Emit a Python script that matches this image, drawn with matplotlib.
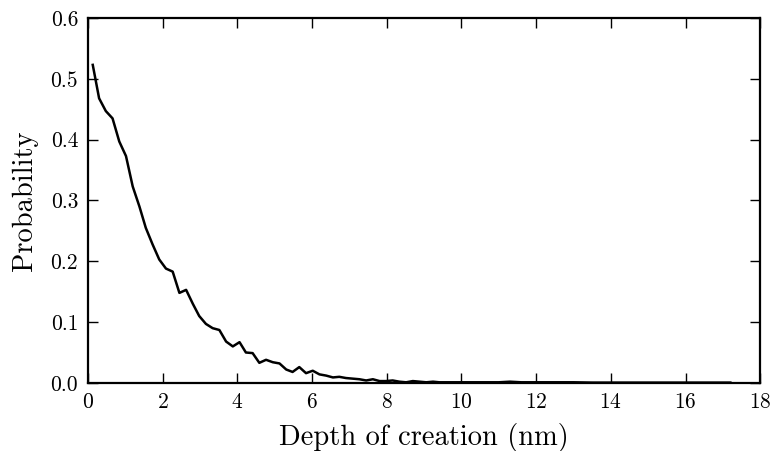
import numpy as np
import matplotlib.pyplot as plt

# depth of creation (nm) and probability
depth = [
    0.13, 0.30, 0.48, 0.66, 0.84, 1.02, 1.20, 1.38, 1.55, 1.73,
    1.91, 2.09, 2.27, 2.45, 2.63, 2.81, 2.98, 3.16, 3.34, 3.52,
    3.70, 3.88, 4.06, 4.23, 4.41, 4.59, 4.77, 4.95, 5.13, 5.31,
    5.48, 5.66, 5.84, 6.02, 6.20, 6.38, 6.56, 6.73, 6.91, 7.09,
    7.27, 7.45, 7.63, 7.81, 7.98, 8.16, 8.34, 8.52, 8.70, 8.88,
    9.06, 9.24, 9.41, 9.60, 10.0, 10.5, 11.0, 11.3, 11.6, 12.0,
    12.5, 13.0, 13.5, 14.0, 14.5, 15.0, 15.5, 16.0, 16.5, 17.0,
    17.2,
]
probability = [
    0.523, 0.468, 0.447, 0.435, 0.397, 0.373, 0.323, 0.290, 0.255, 0.228,
    0.203, 0.188, 0.183, 0.148, 0.153, 0.130, 0.110, 0.097, 0.090, 0.087,
    0.068, 0.060, 0.067, 0.050, 0.049, 0.033, 0.038, 0.034, 0.032, 0.022,
    0.018, 0.026, 0.016, 0.020, 0.014, 0.012, 0.009, 0.010, 0.008, 0.007,
    0.006, 0.004, 0.006, 0.003, 0.003, 0.004, 0.002, 0.001, 0.003, 0.002,
    0.001, 0.002, 0.001, 0.001, 0.001, 0.001, 0.001, 0.002, 0.001, 0.001,
    0.001, 0.001, 0.0005, 0.0005, 0.0005, 0.0005, 0.0005, 0.0005, 0.0005, 0.0005,
    0.0005,
]

plt.rcParams["font.family"] = "cmr10"
plt.rcParams["axes.formatter.use_mathtext"] = True
plt.rcParams["mathtext.fontset"] = "cm"

fig = plt.figure(figsize=(7.71, 4.51), dpi=100)
ax = fig.add_axes([0.114, 0.151, 0.872, 0.809])

ax.plot(depth, probability, color="black", linewidth=1.8)

ax.set_xlim(0, 18)
ax.set_ylim(0, 0.6)
ax.set_xticks(np.arange(0, 19, 2))
ax.set_yticks(np.arange(0, 0.61, 0.1))
ax.set_yticklabels([f"{v:.1f}" for v in np.arange(0, 0.61, 0.1)])

ax.tick_params(direction="in", top=True, right=True, length=7, width=1,
               labelsize=15.5, pad=7)
for spine in ax.spines.values():
    spine.set_linewidth(1.6)

ax.set_xlabel("Depth of creation (nm)", fontsize=20.5, labelpad=8)
ax.set_ylabel("Probability", fontsize=20.5, labelpad=9)

fig.savefig("out.png", dpi=100)
